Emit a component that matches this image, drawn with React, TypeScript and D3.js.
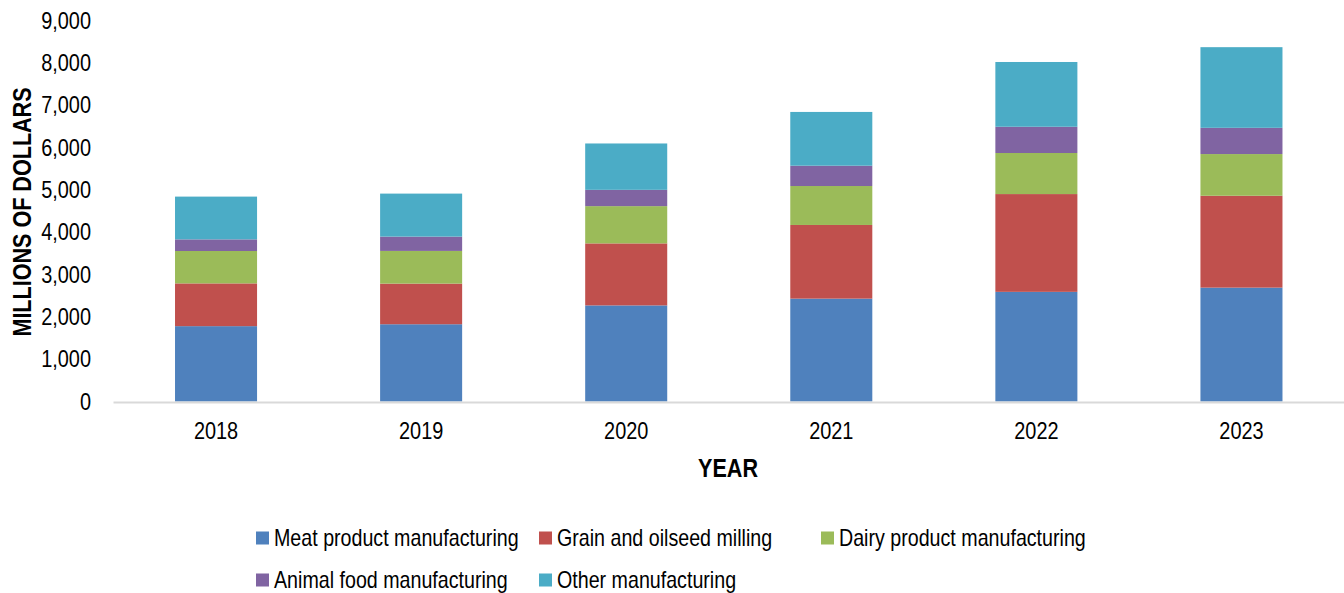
import * as d3 from "d3";
import { useEffect, useRef } from "react";

const years = ["2018", "2019", "2020", "2021", "2022", "2023"];
const seriesNames = [
  "Meat product manufacturing",
  "Grain and oilseed milling",
  "Dairy product manufacturing",
  "Animal food manufacturing",
  "Other manufacturing",
];
const meat = [1780, 1825, 2270, 2430, 2590, 2690];
const grain = [1010, 960, 1465, 1740, 2310, 2170];
const dairy = [765, 772, 880, 920, 970, 985];
const animal = [275, 338, 385, 480, 620, 620];
const other = [1010, 1016, 1095, 1270, 1530, 1905];
const colors = ["#4F81BD", "#C0504D", "#9BBB59", "#8064A2", "#4BACC6"];
const yTicks = [0, 1000, 2000, 3000, 4000, 5000, 6000, 7000, 8000, 9000];

const W = 1344;
const H = 593;
const margin = { top: 20.5, right: 0, bottom: 191.5, left: 113.5 };
// no Arial Narrow installed, so squeeze Liberation Sans horizontally
const FONT = "'Liberation Sans', Arial, sans-serif";
const SX = 0.83;
const SX_LEGEND = 0.855;

export default function App() {
  const svgRef = useRef<SVGSVGElement>(null);

  useEffect(() => {
    const svg = d3.select(svgRef.current);
    svg.selectAll("*").remove();
    const innerW = W - margin.left - margin.right;
    const innerH = H - margin.top - margin.bottom;

    const rows = years.map((year, i) => ({
      year,
      s0: meat[i],
      s1: grain[i],
      s2: dairy[i],
      s3: animal[i],
      s4: other[i],
    }));
    const keys = ["s0", "s1", "s2", "s3", "s4"];
    const stacked = d3.stack<any>().keys(keys)(rows);

    const x = d3.scaleBand().domain(years).range([0, innerW]).paddingInner(0.6).paddingOuter(0.3);
    const y = d3.scaleLinear().domain([0, 9000]).range([innerH, 0]);

    const g = svg.append("g").attr("transform", `translate(${margin.left},${margin.top})`);

    g.selectAll("g.layer")
      .data(stacked)
      .enter()
      .append("g")
      .attr("class", "layer")
      .attr("fill", (_d, i) => colors[i])
      .selectAll("rect")
      .data((d) => d)
      .enter()
      .append("rect")
      .attr("x", (d: any) => x(d.data.year)!)
      .attr("y", (d) => y(d[1]))
      .attr("width", x.bandwidth())
      .attr("height", (d) => y(d[0]) - y(d[1]));

    // baseline
    g.append("line")
      .attr("x1", 0)
      .attr("x2", innerW)
      .attr("y1", innerH + 1)
      .attr("y2", innerH + 1)
      .attr("stroke", "#D9D9D9")
      .attr("stroke-width", 2);

    const fmt = d3.format(",");
    const gy = g.append("g").call(
      d3.axisLeft(y).tickValues(yTicks).tickFormat((d) => fmt(d as number)).tickSize(0)
    );
    gy.select(".domain").remove();
    gy.selectAll("text")
      .attr("x", -22.5 / SX)
      .attr("transform", `scale(${SX},1)`)
      .attr("font-family", FONT)
      .attr("font-size", 24)
      .attr("fill", "#000");

    const gx = g.append("g").attr("transform", `translate(0,${innerH})`).call(d3.axisBottom(x).tickSize(0).tickPadding(20));
    gx.select(".domain").remove();
    gx.selectAll("text")
      .attr("transform", `scale(${SX},1)`)
      .attr("font-family", FONT)
      .attr("font-size", 24)
      .attr("fill", "#000");

    svg.append("text")
      .attr("transform", `translate(31,212) rotate(-90) scale(${SX},1)`)
      .attr("text-anchor", "middle")
      .attr("font-family", FONT)
      .attr("font-weight", "bold")
      .attr("font-size", 26)
      .text("MILLIONS OF DOLLARS");

    svg.append("text")
      .attr("transform", `translate(728,477) scale(${SX},1)`)
      .attr("text-anchor", "middle")
      .attr("font-family", FONT)
      .attr("font-weight", "bold")
      .attr("font-size", 26)
      .text("YEAR");

    const legendPos = [
      [256, 538],
      [539, 538],
      [821, 538],
      [256, 580],
      [539, 580],
    ];
    const legend = svg.append("g");
    const items = legend
      .selectAll("g")
      .data(seriesNames)
      .enter()
      .append("g")
      .attr("transform", (_d, i) => `translate(${legendPos[i][0]},${legendPos[i][1]})`);
    items.append("rect").attr("x", 0).attr("y", -6.5).attr("width", 13).attr("height", 13).attr("fill", (_d, i) => colors[i]);
    items.append("text")
      .attr("transform", `translate(18,0) scale(${SX_LEGEND},1)`)
      .attr("dy", "0.35em")
      .attr("font-family", FONT)
      .attr("font-size", 23)
      .text((d) => d);
  }, []);

  return (
    <>
      <style>{`body{margin:0}`}</style>
      <svg ref={svgRef} width={W} height={H} style={{ display: "block", background: "#fff" }} />
    </>
  );
}
